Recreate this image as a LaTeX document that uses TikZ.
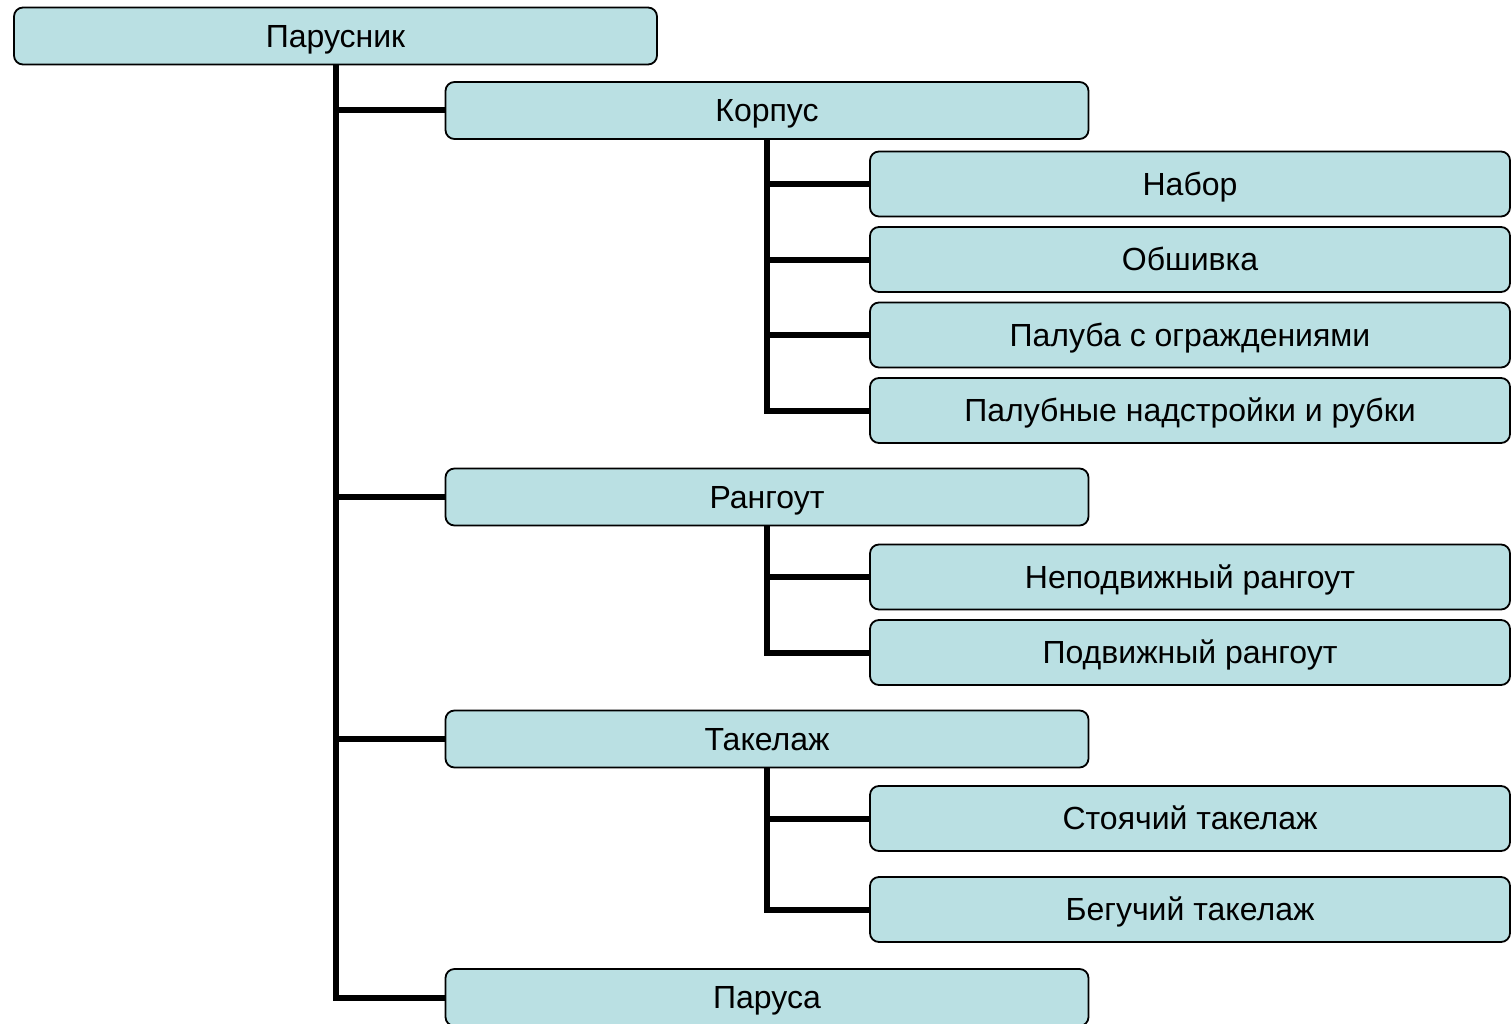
\documentclass[tikz,border=0pt]{standalone}
\usepackage{fontspec}
\setmainfont{Liberation Sans}
\usetikzlibrary{backgrounds}
\definecolor{boxfill}{HTML}{BAE0E3}
\tikzset{
  x=1pt, y=-1pt,
  box/.style={draw=black, line width=1.8pt, fill=boxfill, rounded corners=9pt,
    inner sep=0pt, text height=24pt, text depth=1.7pt,
    font=\fontsize{32}{36}\selectfont},
  lvA/.style={box, minimum width=643pt, minimum height=57pt},
  lvB/.style={box, minimum width=640pt, minimum height=65pt},
  conn/.style={draw=black, line width=6pt}
}
\begin{document}
\begin{tikzpicture}
\useasboundingbox (0,0) rectangle (1511,1024);
\clip (0,0) rectangle (1511,1024);
\node[lvA] (root) at (335.5,36) {Парусник};
\node[lvA] (korpus) at (767,110.5) {Корпус};
\node[lvB] (nabor) at (1190,184) {Набор};
\node[lvB] (obsh) at (1190,259.5) {Обшивка};
\node[lvB] (paluba) at (1190,335) {Палуба с ограждениями};
\node[lvB] (nadstr) at (1190,410.5) {Палубные надстройки и рубки};
\node[lvA] (rang) at (767,497) {Рангоут};
\node[lvB] (nepod) at (1190,577) {Неподвижный рангоут};
\node[lvB] (podv) at (1190,652.5) {Подвижный рангоут};
\node[lvA] (takel) at (767,739) {Такелаж};
\node[lvB] (stoy) at (1190,818.5) {Стоячий такелаж};
\node[lvB] (beg) at (1190,909.5) {Бегучий такелаж};
\node[lvA] (parusa) at (767,997.5) {Паруса};
\begin{scope}[on background layer]
\draw[conn] (root.south) |- (korpus.west);
\draw[conn] (root.south) |- (rang.west);
\draw[conn] (root.south) |- (takel.west);
\draw[conn] (root.south) |- (parusa.west);
\draw[conn] (korpus.south) |- (nabor.west);
\draw[conn] (korpus.south) |- (obsh.west);
\draw[conn] (korpus.south) |- (paluba.west);
\draw[conn] (korpus.south) |- (nadstr.west);
\draw[conn] (rang.south) |- (nepod.west);
\draw[conn] (rang.south) |- (podv.west);
\draw[conn] (takel.south) |- (stoy.west);
\draw[conn] (takel.south) |- (beg.west);
\end{scope}
\end{tikzpicture}
\end{document}
